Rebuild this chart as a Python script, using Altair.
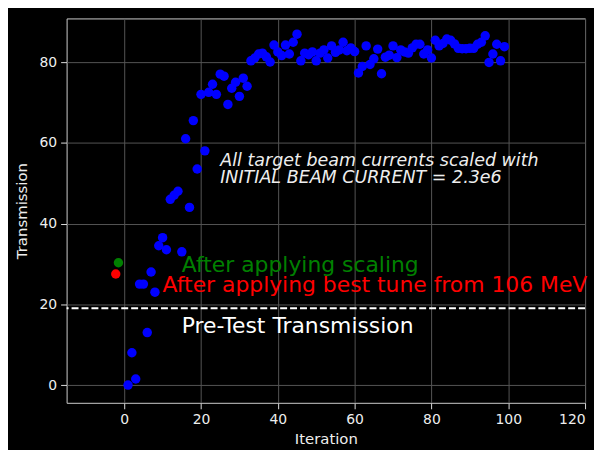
import altair as alt
import pandas as pd

# ---- data ----
iterations = list(range(1, 100))
transmission = [
    0, 8, 1.5, 25, 25, 13, 28, 23, 34.5, 36.5,
    33.5, 46, 47, 48, 33, 61, 44, 65.5, 53.5, 72,
    58, 72.5, 74.5, 72, 77, 76.5, 69.5, 73.5, 75, 71.5,
    76, 74, 80.3, 81, 82, 82.2, 81.3, 80, 84.2, 82.5,
    81.6, 84.2, 82, 84.9, 86.9, 80.3, 82.2, 81.8, 82.5, 80.3,
    82.2, 83, 81, 84, 82.4, 83, 84.9, 82.8, 83.5, 82.6,
    77.3, 78.9, 84, 79.4, 80.8, 83.2, 77.1, 81.2, 81.7, 84,
    81.1, 83, 82.5, 82.2, 83.5, 84.4, 84.4, 82, 83, 81,
    85.4, 84, 84.6, 85.7, 85.4, 84.5, 83.4, 83.3, 83.3, 83.4,
    83.4, 84.4, 84.9, 86.5, 79.9, 82, 84.4, 80.3, 83.8,
]
scaled_x = [-1.5]
scaled_y = [30.3]
tuned_x = [-2.2]
tuned_y = [27.5]
pretest_level = [19]

label_text = [
    "After applying scaling",
    "After applying best tune from 106 MeV",
    "Pre-Test Transmission",
]
label_x = [15, 10, 15]
label_y = [28, 23, 13]
label_color = ["#008000", "#ff0000", "#ffffff"]

note_text = ["All target beam currents scaled with", "INITIAL BEAM CURRENT = 2.3e6"]
note_x = [25, 25]
note_y = [54.35, 50]

x_ticks = [0, 20, 40, 60, 80, 100, 120]
y_ticks = [0, 20, 40, 60, 80]
x_domain = [-15, 120]
y_domain = [-4.4, 90.8]

FONT = "DejaVu Sans"

xs = alt.Scale(domain=x_domain, nice=False, zero=False)
ys = alt.Scale(domain=y_domain, nice=False, zero=False)

df = pd.DataFrame({"Iteration": iterations, "Transmission": transmission})
base_x = alt.X("Iteration:Q", scale=xs,
               axis=alt.Axis(values=x_ticks, title="Iteration", format="d",
                             labelPadding=4, titlePadding=5))
base_y = alt.Y("Transmission:Q", scale=ys,
               axis=alt.Axis(values=y_ticks, title="Transmission", format="d",
                             labelPadding=4, titlePadding=10))

pts = alt.Chart(df).mark_circle(size=90, opacity=1, color="#0000ff").encode(
    x=base_x, y=base_y)

sc = alt.Chart(pd.DataFrame({"Iteration": scaled_x, "Transmission": scaled_y})).mark_circle(
    size=90, opacity=1, color="#008000").encode(x=alt.X("Iteration:Q", scale=xs),
                                                 y=alt.Y("Transmission:Q", scale=ys))
tu = alt.Chart(pd.DataFrame({"Iteration": tuned_x, "Transmission": tuned_y})).mark_circle(
    size=90, opacity=1, color="#ff0000").encode(x=alt.X("Iteration:Q", scale=xs),
                                                 y=alt.Y("Transmission:Q", scale=ys))

rule = alt.Chart(pd.DataFrame({"lvl": pretest_level})).mark_rule(
    color="white", strokeWidth=2, strokeDash=[7, 3]).encode(
    y=alt.Y("lvl:Q", scale=ys))

labels = alt.Chart(pd.DataFrame({"t": label_text, "x": label_x, "y": label_y, "c": label_color})).mark_text(
    align="left", baseline="alphabetic", font=FONT, fontSize=22).encode(
    x=alt.X("x:Q", scale=xs), y=alt.Y("y:Q", scale=ys), text="t:N",
    color=alt.Color("c:N", scale=None))

notes = alt.Chart(pd.DataFrame({"t": note_text, "x": note_x, "y": note_y})).mark_text(
    align="left", baseline="alphabetic", font=FONT, fontSize=17.6, fontStyle="italic",
    color="#eeeeee").encode(
    x=alt.X("x:Q", scale=xs), y=alt.Y("y:Q", scale=ys), text="t:N")

chart = alt.layer(pts, rule, sc, tu, labels, notes).properties(
    width=522, height=387, autosize="none",
    padding={"left": 59, "top": 9, "right": 9, "bottom": 46},
    background="black",
).configure_view(fill="black", stroke="#cccccc", strokeWidth=1).configure_axis(
    grid=True, gridColor="#555555", gridWidth=1, domain=False,
    tickColor="#dddddd", tickSize=6, labelColor="#eeeeee", titleColor="#eeeeee",
    labelFont=FONT, titleFont=FONT, labelFontSize=14, titleFontSize=15,
    titleFontWeight="normal",
)

chart.save("out.html", embed_options={"renderer": "svg", "actions": False})
